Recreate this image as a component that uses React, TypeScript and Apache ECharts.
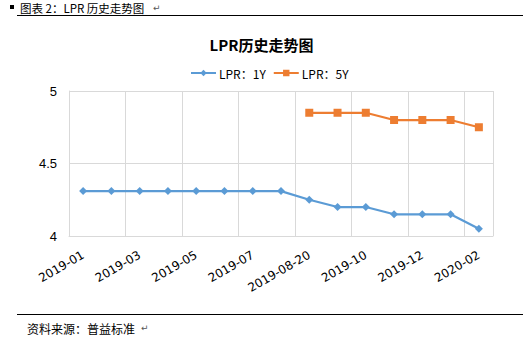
import React, { useEffect, useRef } from "react";
import * as echarts from "echarts";

const categories = [
  "2019-01", "2019-02", "2019-03", "2019-04", "2019-05", "2019-06", "2019-07", "2019-08",
  "2019-08-20", "2019-09", "2019-10", "2019-11", "2019-12", "2020-01", "2020-02",
];
const lpr1Y = [4.31, 4.31, 4.31, 4.31, 4.31, 4.31, 4.31, 4.31, 4.25, 4.2, 4.2, 4.15, 4.15, 4.15, 4.05];
const lpr5Y = [null, null, null, null, null, null, null, null, 4.85, 4.85, 4.85, 4.8, 4.8, 4.8, 4.75];
const seriesNames = ["LPR：1Y", "LPR：5Y"];
const yTicks = { min: 4, max: 5, interval: 0.5 };

const CJK = '"Noto Sans CJK SC", "DejaVu Sans", sans-serif';
const GRID = "#d9d9d9";

export default function App() {
  const ref = useRef<HTMLDivElement>(null);
  useEffect(() => {
    const chart = echarts.init(ref.current!, null, { renderer: "svg" });
    chart.setOption({
      animation: false,
      backgroundColor: "#ffffff",
      title: {
        text: "LPR历史走势图",
        left: "center",
        top: 32,
        textStyle: { fontFamily: CJK, fontSize: 15, fontWeight: "bold", color: "#000" },
      },
      legend: {
        left: 185,
        top: 62,
        itemWidth: 25,
        itemHeight: 8,
        itemGap: 7,
        textStyle: { fontFamily: CJK, fontSize: 12, color: "#000", padding: [0, 0, 0, -2] },
        data: seriesNames,
      },
      grid: { left: 69, right: 30, top: 91, bottom: 102 },
      xAxis: {
        type: "category",
        data: categories,
        boundaryGap: true,
        axisLine: { show: true, lineStyle: { color: GRID, width: 1 } },
        axisTick: { show: false },
        axisLabel: {
          interval: 1,
          rotate: 30,
          margin: 18,
          fontFamily: '"DejaVu Sans", sans-serif',
          fontSize: 12,
          color: "#000",
        },
        splitLine: { show: true, interval: 1, lineStyle: { color: GRID, width: 1 } },
      },
      yAxis: {
        type: "value",
        min: yTicks.min,
        max: yTicks.max,
        interval: yTicks.interval,
        axisLine: { show: true, lineStyle: { color: GRID, width: 1 } },
        axisTick: { show: false },
        axisLabel: {
          margin: 12,
          fontFamily: '"Liberation Sans", Arial, sans-serif',
          fontSize: 13,
          color: "#000",
          formatter: (v: number) => String(v),
        },
        splitLine: { show: true, lineStyle: { color: GRID, width: 1 } },
      },
      series: [
        {
          name: seriesNames[0],
          type: "line",
          data: lpr1Y,
          symbol: "diamond",
          symbolSize: 8,
          itemStyle: { color: "#5b9bd5" },
          lineStyle: { color: "#5b9bd5", width: 2.25 },
        },
        {
          name: seriesNames[1],
          type: "line",
          data: lpr5Y,
          symbol: "rect",
          symbolSize: 8,
          itemStyle: { color: "#ed7d31" },
          lineStyle: { color: "#ed7d31", width: 2.25 },
        },
      ],
      graphic: [
        { type: "rect", shape: { x: 10, y: 5, width: 4, height: 4 }, style: { fill: "#000" } },
        {
          type: "text",
          x: 20,
          y: 7.5,
          style: { text: "图表 2：LPR 历史走势图", fontFamily: CJK, fontSize: 11.5, fill: "#000", verticalAlign: "middle" },
        },
        {
          type: "text",
          x: 153,
          y: 8,
          style: { text: "↵", fontFamily: '"DejaVu Sans", sans-serif', fontSize: 9, fill: "#555", verticalAlign: "middle" },
        },
        { type: "line", shape: { x1: 17, y1: 15.5, x2: 523, y2: 15.5 }, style: { stroke: "#000", lineWidth: 1 } },
        { type: "line", shape: { x1: 17, y1: 314.5, x2: 523, y2: 314.5 }, style: { stroke: "#000", lineWidth: 1 } },
        {
          type: "text",
          x: 27,
          y: 328,
          style: { text: "资料来源：普益标准", fontFamily: CJK, fontSize: 12, fill: "#000", verticalAlign: "middle" },
        },
        {
          type: "text",
          x: 141,
          y: 328,
          style: { text: "↵", fontFamily: '"DejaVu Sans", sans-serif', fontSize: 9, fill: "#555", verticalAlign: "middle" },
        },
      ],
    });
    return () => chart.dispose();
  }, []);
  return (
    <div
      ref={ref}
      style={{ position: "fixed", left: 0, top: 0, width: 523, height: 338 }}
    />
  );
}
